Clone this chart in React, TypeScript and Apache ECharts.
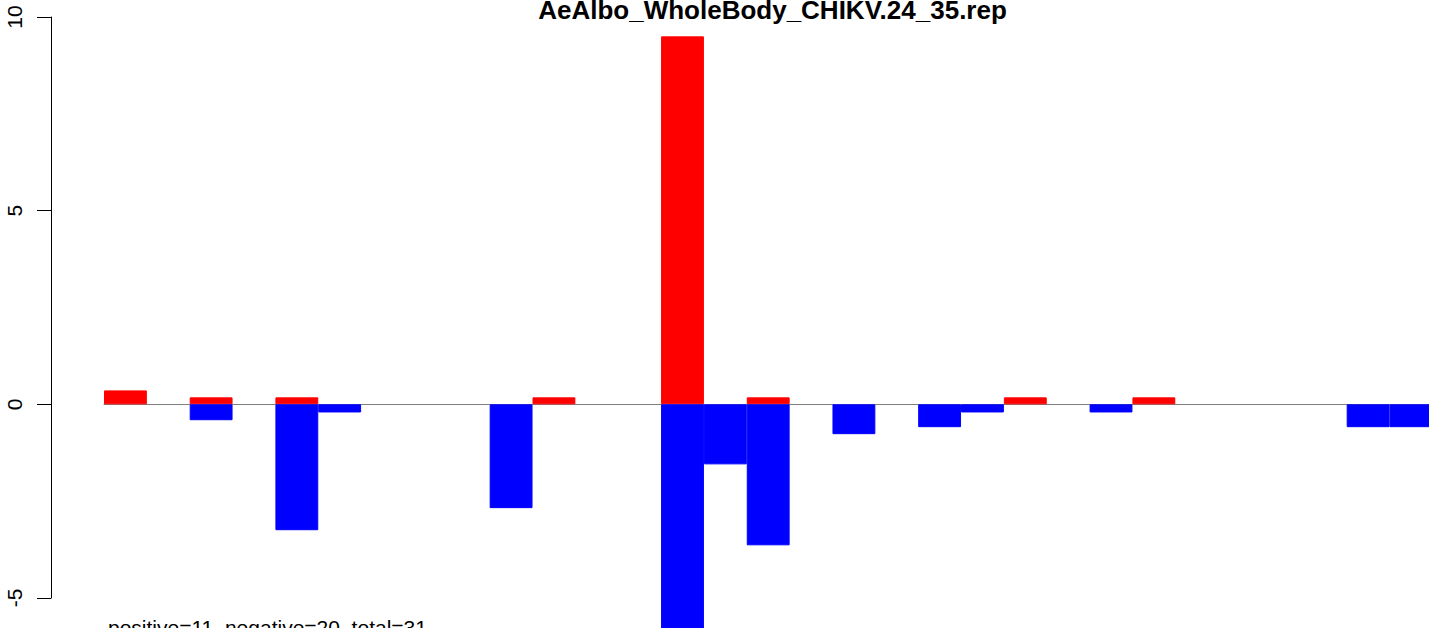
import React, { useEffect, useRef } from "react";
import * as echarts from "echarts";

const titleText = "AeAlbo_WholeBody_CHIKV.24_35.rep";
const subText = "positive=11, negative=20, total=31";
const slots = Array.from({ length: 31 }, (_, i) => String(i + 1));
const positiveValues = [
  0.36, 0, 0.18, 0, 0.18, 0, 0, 0, 0, 0, 0.18, 0, 0, 9.5, 0, 0.18, 0, 0, 0, 0, 0,
  0.18, 0, 0, 0.18, 0, 0, 0, 0, 0, 0,
];
const negativeValues = [
  0, 0, -0.41, 0, -3.25, -0.21, 0, 0, 0, -2.68, 0, 0, 0, -6.6, -1.55, -3.64, 0,
  -0.77, 0, -0.59, -0.21, 0, 0, -0.21, 0, 0, 0, 0, 0, -0.59, -0.59,
];
const yTicks = { min: -5, max: 10, interval: 5 };

export default function App() {
  const ref = useRef<HTMLDivElement>(null);
  useEffect(() => {
    if (!ref.current) return;
    const chart = echarts.init(ref.current, undefined, { renderer: "svg" });
    const font = "'Liberation Sans', Arial, sans-serif";
    chart.setOption({
      animation: false,
      backgroundColor: "#ffffff",
      title: [
        {
          text: titleText,
          left: 767.5,
          textAlign: "center",
          top: -8,
          textStyle: { fontFamily: font, fontSize: 26, fontWeight: "bold", color: "#000" },
        },
        {
          text: subText,
          left: 103,
          top: 612,
          textStyle: { fontFamily: font, fontSize: 21, fontWeight: "normal", color: "#000" },
        },
      ],
      grid: { left: 104, right: 7.6, top: 17, bottom: 30, containLabel: false },
      xAxis: {
        type: "category",
        data: slots,
        axisLine: { show: true, onZero: true, lineStyle: { color: "#808080", width: 1 } },
        axisTick: { show: false },
        axisLabel: { show: false },
        splitLine: { show: false },
      },
      yAxis: {
        type: "value",
        min: yTicks.min,
        max: yTicks.max,
        interval: yTicks.interval,
        offset: 53,
        axisLine: { show: true, lineStyle: { color: "#000", width: 1 } },
        axisTick: { show: true, length: 14, lineStyle: { color: "#000", width: 1 } },
        axisLabel: {
          rotate: 90,
          margin: 26,
          fontFamily: font,
          fontSize: 21,
          color: "#000",
        },
        splitLine: { show: false },
      },
      series: [
        {
          type: "bar",
          data: positiveValues.map((v) => (v === 0 ? "-" : v)),
          itemStyle: { color: "#ff0000", borderColor: "#ff0000", borderWidth: 1 },
          barGap: "-100%",
          barCategoryGap: 0,
          clip: false,
        },
        {
          type: "bar",
          data: negativeValues.map((v) => (v === 0 ? "-" : v)),
          itemStyle: { color: "#0000ff", borderColor: "#0000ff", borderWidth: 1 },
          barGap: "-100%",
          barCategoryGap: 0,
          clip: false,
        },
      ],
    });
    return () => chart.dispose();
  }, []);
  return (
    <div
      style={{
        position: "absolute",
        left: 0,
        top: 0,
        width: 1429,
        height: 628,
        overflow: "hidden",
        background: "#fff",
      }}
    >
      <div ref={ref} style={{ width: 1440, height: 628 }} />
    </div>
  );
}
